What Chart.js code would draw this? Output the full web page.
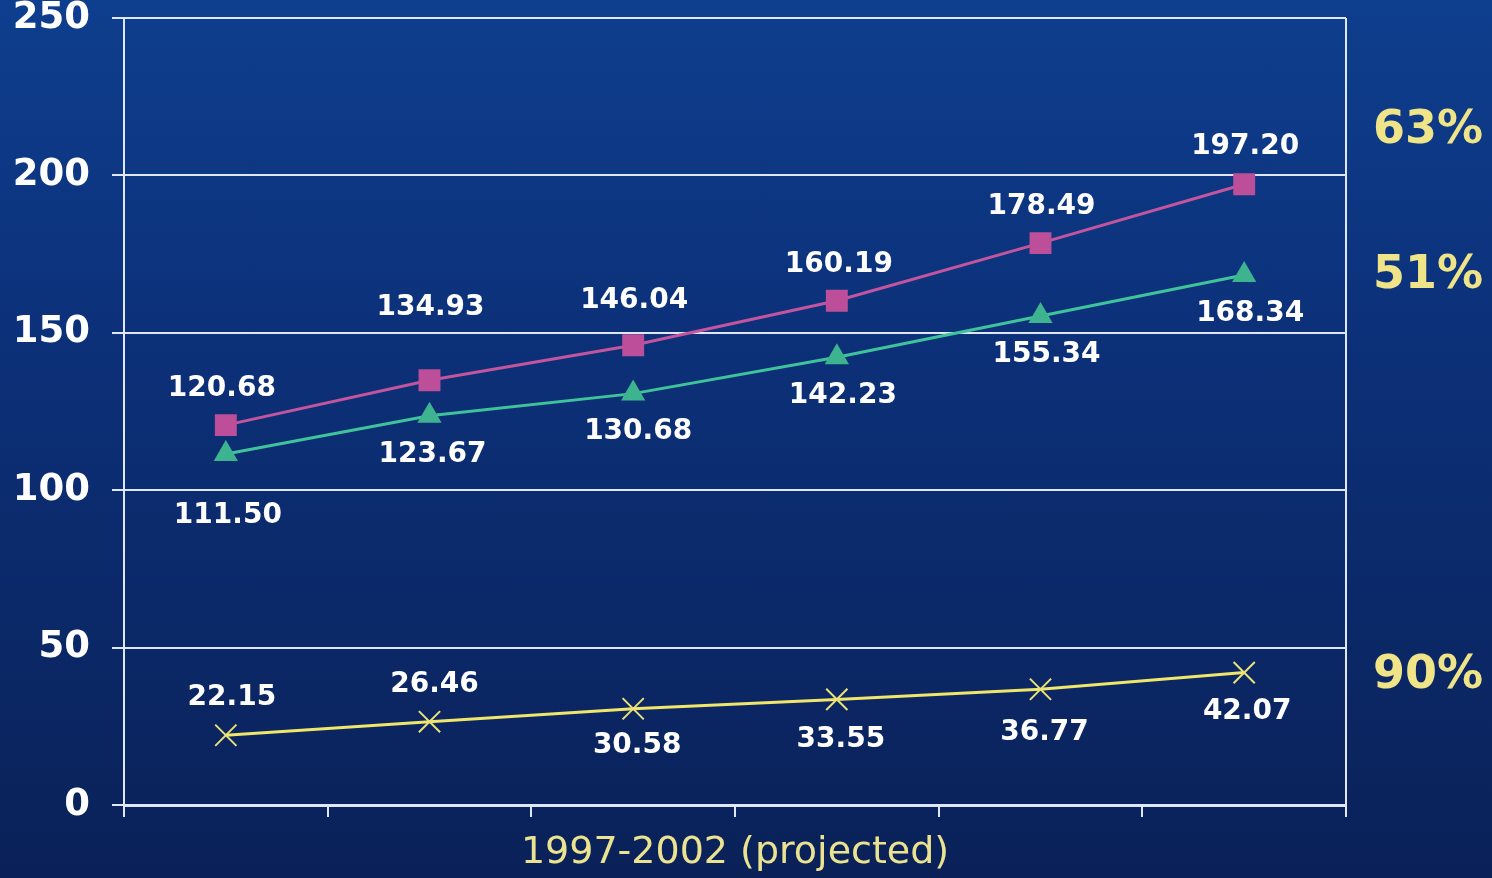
<!DOCTYPE html>
<html>
<head>
<meta charset="utf-8">
<script src="https://cdn.jsdelivr.net/npm/chart.js@4.4.1/dist/chart.umd.min.js"></script>
<style>
  html, body { margin: 0; padding: 0; }
  body { width: 1492px; height: 878px; overflow: hidden;
         background: linear-gradient(180deg, #0e3e8e 0%, #0c3078 40%, #0a2158 100%); }
  #wrap { position: relative; width: 1492px; height: 878px; }
</style>
</head>
<body>
<div id="wrap"><canvas id="c"></canvas></div>
<script>
// ---- data ----
const categories = ['1997', '1998', '1999', '2000', '2001', '2002'];
const seriesMagenta = [120.68, 134.93, 146.04, 160.19, 178.49, 197.20];
const seriesTeal = [111.50, 123.67, 130.68, 142.23, 155.34, 168.34];
const seriesYellow = [22.15, 26.46, 30.58, 33.55, 36.77, 42.07];
const yTicks = [0, 50, 100, 150, 200, 250];
const growthLabels = ['63%', '51%', '90%'];
const growthAt = [214, 168, 41];
const xTitle = '1997-2002 (projected)';

// ---- style (label offsets in px relative to each point) ----
const labelOffsets = [
  [[-4, -36], [1, -73], [1, -45], [2, -36], [1, -36], [1, -37]],
  [[2, 62], [3, 39], [5, 38], [6, 38], [6, 39], [6, 39]],
  [[6, -38], [5, -37], [4, 37], [4, 40], [4, 43], [3, 39]]
];

const valueLabels = {
  id: 'valueLabels',
  afterDatasetsDraw(chart) {
    const ctx = chart.ctx;
    ctx.save();
    ctx.font = 'bold 28px "DejaVu Sans"';
    ctx.fillStyle = '#ffffff';
    ctx.textAlign = 'center';
    ctx.textBaseline = 'middle';
    chart.data.datasets.forEach((ds, di) => {
      const meta = chart.getDatasetMeta(di);
      meta.data.forEach((pt, i) => {
        const off = labelOffsets[di][i];
        ctx.fillText(ds.data[i].toFixed(2), pt.x + off[0], pt.y + off[1]);
      });
    });
    // growth percentages on the right
    const y = chart.scales.y;
    ctx.font = 'bold 46px "DejaVu Sans"';
    ctx.fillStyle = '#efe487';
    ctx.textAlign = 'center';
    growthLabels.forEach((t, i) => {
      ctx.fillText(t, 1428, y.getPixelForValue(growthAt[i]));
    });
    // right border of plot
    const a = chart.chartArea;
    ctx.strokeStyle = '#dfe6f5';
    ctx.lineWidth = 2;
    ctx.beginPath();
    ctx.moveTo(a.right, a.top);
    ctx.lineTo(a.right, a.bottom);
    ctx.stroke();
    ctx.restore();
  }
};

new Chart(document.getElementById('c'), {
  type: 'line',
  data: {
    labels: categories,
    datasets: [
      { label: 'A', data: seriesMagenta, borderColor: '#c3559f', backgroundColor: '#bd4f9a',
        borderWidth: 3, pointStyle: 'rect', pointRadius: 15.5, pointBorderWidth: 0, tension: 0 },
      { label: 'B', data: seriesTeal, borderColor: '#3fc39b', backgroundColor: '#3db48f',
        borderWidth: 3, pointStyle: 'triangle', pointRadius: 14, pointBorderWidth: 0, tension: 0 },
      { label: 'C', data: seriesYellow, borderColor: '#f0e66a', backgroundColor: '#f0e66a',
        borderWidth: 3, pointStyle: 'crossRot', pointRadius: 15, pointBorderWidth: 2, pointBorderColor: '#ece27a', tension: 0 }
    ]
  },
  options: {
    responsive: true,
    maintainAspectRatio: false,
    animation: false,
    layout: { padding: { top: 18, right: 146, left: 0, bottom: 0 } },
    plugins: { legend: { display: false }, tooltip: { enabled: false } },
    scales: {
      x: {
        offset: true,
        afterFit(axis) { axis.height = 73; },
        grid: { offset: true, drawOnChartArea: false, drawTicks: true, tickLength: 12, color: '#dfe6f5', lineWidth: 2 },
        border: { color: '#dfe6f5', width: 3 },
        ticks: { callback: () => '', font: { size: 1 } },
        title: { display: true, text: xTitle, color: '#ebe390',
                 font: { family: 'DejaVu Sans', size: 38 }, padding: { top: 0, bottom: 2 } }
      },
      y: {
        min: 0, max: 250,
        afterFit(axis) { axis.width = 124; axis.paddingTop = 0; axis.paddingBottom = 0; },
        afterBuildTicks(axis) { axis.ticks = yTicks.map(v => ({ value: v })); },
        grid: { color: '#dfe6f5', lineWidth: 2, drawTicks: true, tickLength: 12 },
        border: { color: '#dfe6f5', width: 2 },
        ticks: { color: '#ffffff', padding: 22, font: { family: 'DejaVu Sans', weight: 'bold', size: 37 } }
      }
    }
  },
  plugins: [valueLabels]
});
</script>
</body>
</html>
